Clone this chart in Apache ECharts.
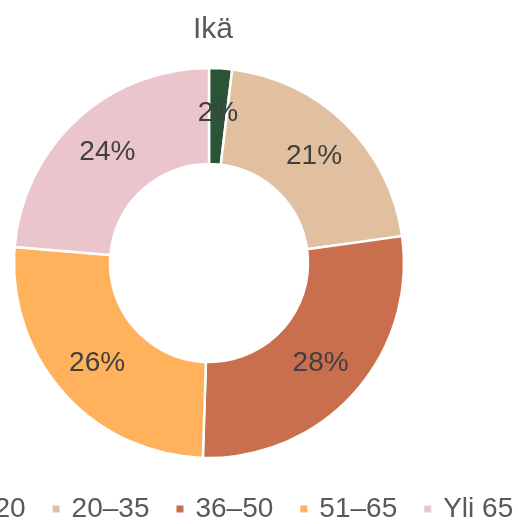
<!DOCTYPE html>
<html>
<head>
<meta charset="utf-8">
<script src="https://cdn.jsdelivr.net/npm/echarts@6/dist/echarts.min.js"></script>
<style>
  html, body { margin: 0; padding: 0; background: #fff; }
  #chart { width: 518px; height: 524px; }
</style>
</head>
<body>
<div id="chart"></div>
<script>
// Ikä – ikäjakauma
const categories = ['Alle 20', '20–35', '36–50', '51–65', 'Yli 65'];
const shares = [1.9, 20.9, 27.7, 25.8, 23.7];
const colors = ['#2b5336', '#e0c09f', '#c96f4d', '#ffb15c', '#ebc5cc'];

let myChart = echarts.init(document.getElementById('chart'));
myChart.setOption({
  animation: false,
  color: colors,
  textStyle: { fontFamily: 'Liberation Sans, Arial, sans-serif' },
  title: {
    text: 'Ikä',
    left: 188,
    top: 10,
    textStyle: { fontSize: 30, fontWeight: 'normal', color: '#595959', fontFamily: 'Liberation Sans' }
  },
  legend: {
    data: categories,
    left: -86,
    top: 490,
    width: 900,
    orient: 'horizontal',
    icon: 'rect',
    itemWidth: 9,
    itemHeight: 9,
    itemGap: 25,
    textStyle: { fontSize: 28, color: '#595959', padding: [0, 0, 0, 6], fontFamily: 'Liberation Sans' }
  },
  series: [
    {
      name: 'Ikä',
      type: 'pie',
      center: [209, 263],
      radius: [99, 195],
      startAngle: 90,
      clockwise: true,
      avoidLabelOverlap: false,
      itemStyle: { borderColor: '#fff', borderWidth: 2.5 },
      label: {
        show: true,
        position: 'inside',
        formatter: p => Math.round(p.value) + '%',
        fontSize: 28,
        color: '#404040',
        fontFamily: 'Liberation Sans'
      },
      labelLine: { show: false },
      data: categories.map((c, i) => ({ name: c, value: shares[i] }))
    }
  ]
});
</script>
</body>
</html>
